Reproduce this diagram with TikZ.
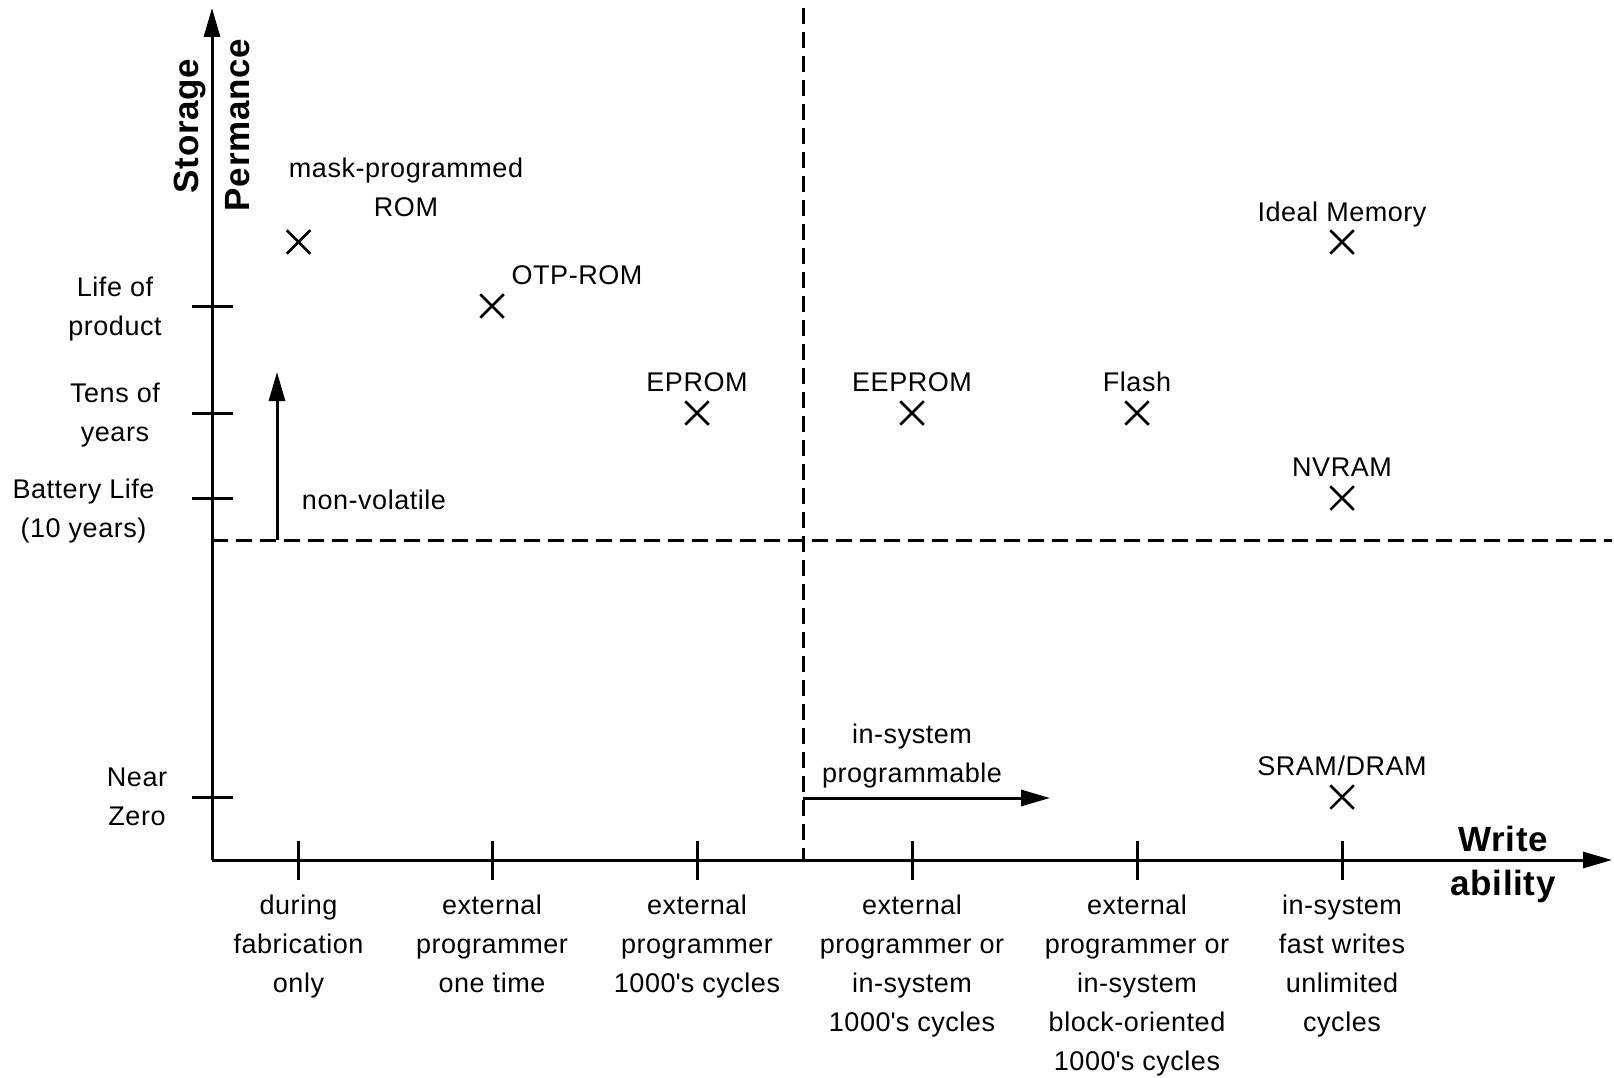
\documentclass[tikz,border=0pt]{standalone}
\usepackage{fontspec}
\setmainfont{Liberation Sans}[LetterSpace=2]
\usetikzlibrary{arrows.meta,shapes.misc}
\begin{document}
\begin{tikzpicture}[x=1pt,y=-1pt,
  txt/.style={font=\fontsize{27}{39}\selectfont, align=center, inner sep=0pt},
  boldtxt/.style={font=\fontsize{35}{44}\selectfont\bfseries, inner sep=0pt},
  axisline/.style={line width=3pt, -{Triangle[length=29pt,width=16pt]}},
  tickline/.style={line width=3pt},
  dashline/.style={line width=3pt, dash pattern=on 16pt off 8pt},
  xmark/.style={cross out, draw, line width=2.5pt, minimum size=21pt, inner sep=0pt}]
\useasboundingbox (0,0) rectangle (1614,1078);
% axes
\coordinate (O) at (212,860);
\coordinate (ytop) at (212,8);
\coordinate (xend) at (1612,860);
\draw[axisline] (O) -- (ytop);
\draw[axisline] (O) -- (xend);
% y ticks
\foreach \yy in {306,413,498,797} \draw[tickline] (192,\yy) -- (233,\yy);
% x ticks
\foreach \xx in {298.5,492,697,912,1137,1342} \draw[tickline] (\xx,841) -- (\xx,880);
% dashed lines
\coordinate (hd1) at (212,540);
\coordinate (hd2) at (1612,540);
\coordinate (vd1) at (803,8);
\coordinate (vd2) at (803,860);
\draw[dashline] (hd1) -- (hd2);
\draw[dashline] (vd1) -- (vd2);
% arrows
\coordinate (nv1) at (277,540);
\coordinate (nv2) at (277,372);
\draw[axisline] (nv1) -- (nv2);
\coordinate (is1) at (803,798);
\coordinate (is2) at (1050,798);
\draw[axisline] (is1) -- (is2);
% marks
\node[xmark] (m1) at (298.5,242) {};
\node[xmark] (m2) at (492,306) {};
\node[xmark] (m3) at (697,413) {};
\node[xmark] (m4) at (912,413) {};
\node[xmark] (m5) at (1137,413) {};
\node[xmark] (m6) at (1342,242) {};
\node[xmark] (m7) at (1342,498) {};
\node[xmark] (m8) at (1342,797) {};
% mark labels
\node[txt] (l1) at (406,187.5) {mask-programmed\\ROM};
\node[txt] (l2) at (577,275) {OTP-ROM};
\node[txt] (l3) at (697,382) {EPROM};
\node[txt] (l4) at (912,382) {EEPROM};
\node[txt] (l5) at (1137,382) {Flash};
\node[txt] (l6) at (1342,215) {Ideal Memory};
\node[txt] (l7) at (1342,467) {NVRAM};
\node[txt] (l8) at (1342,766) {SRAM/DRAM};
\node[txt] (nvl) at (374,500) {non-volatile};
\node[txt] (isl) at (912,756) {in-system\\programmable};
% y labels
\node[txt] (y1) at (115,309) {Life of\\product};
\node[txt] (y2) at (115,415) {Tens of\\years};
\node[txt] (y3) at (83.5,511) {Battery Life\\(10 years)};
\node[txt] (y4) at (137,797) {Near\\Zero};
% x labels
\node[txt] (x1) at (298.5,947) {during\\fabrication\\only};
\node[txt] (x2) at (492,944) {external\\programmer\\one time};
\node[txt] (x3) at (697,947) {external\\programmer\\1000\textquotesingle s cycles};
\node[txt] (x4) at (912,966) {external\\programmer or\\in-system\\1000\textquotesingle s cycles};
\node[txt] (x5) at (1137,986) {external\\programmer or\\in-system\\block-oriented\\1000\textquotesingle s cycles};
\node[txt] (x6) at (1342,966) {in-system\\fast writes\\unlimited\\cycles};
% axis titles
\node[boldtxt] (wr) at (1503,839) {Write};
\node[boldtxt] (ab) at (1503,886) {ability};
\node[boldtxt, rotate=90] (st) at (190,126) {Storage};
\node[boldtxt, rotate=90] (pe) at (238,125) {Permance};
\end{tikzpicture}
\end{document}
